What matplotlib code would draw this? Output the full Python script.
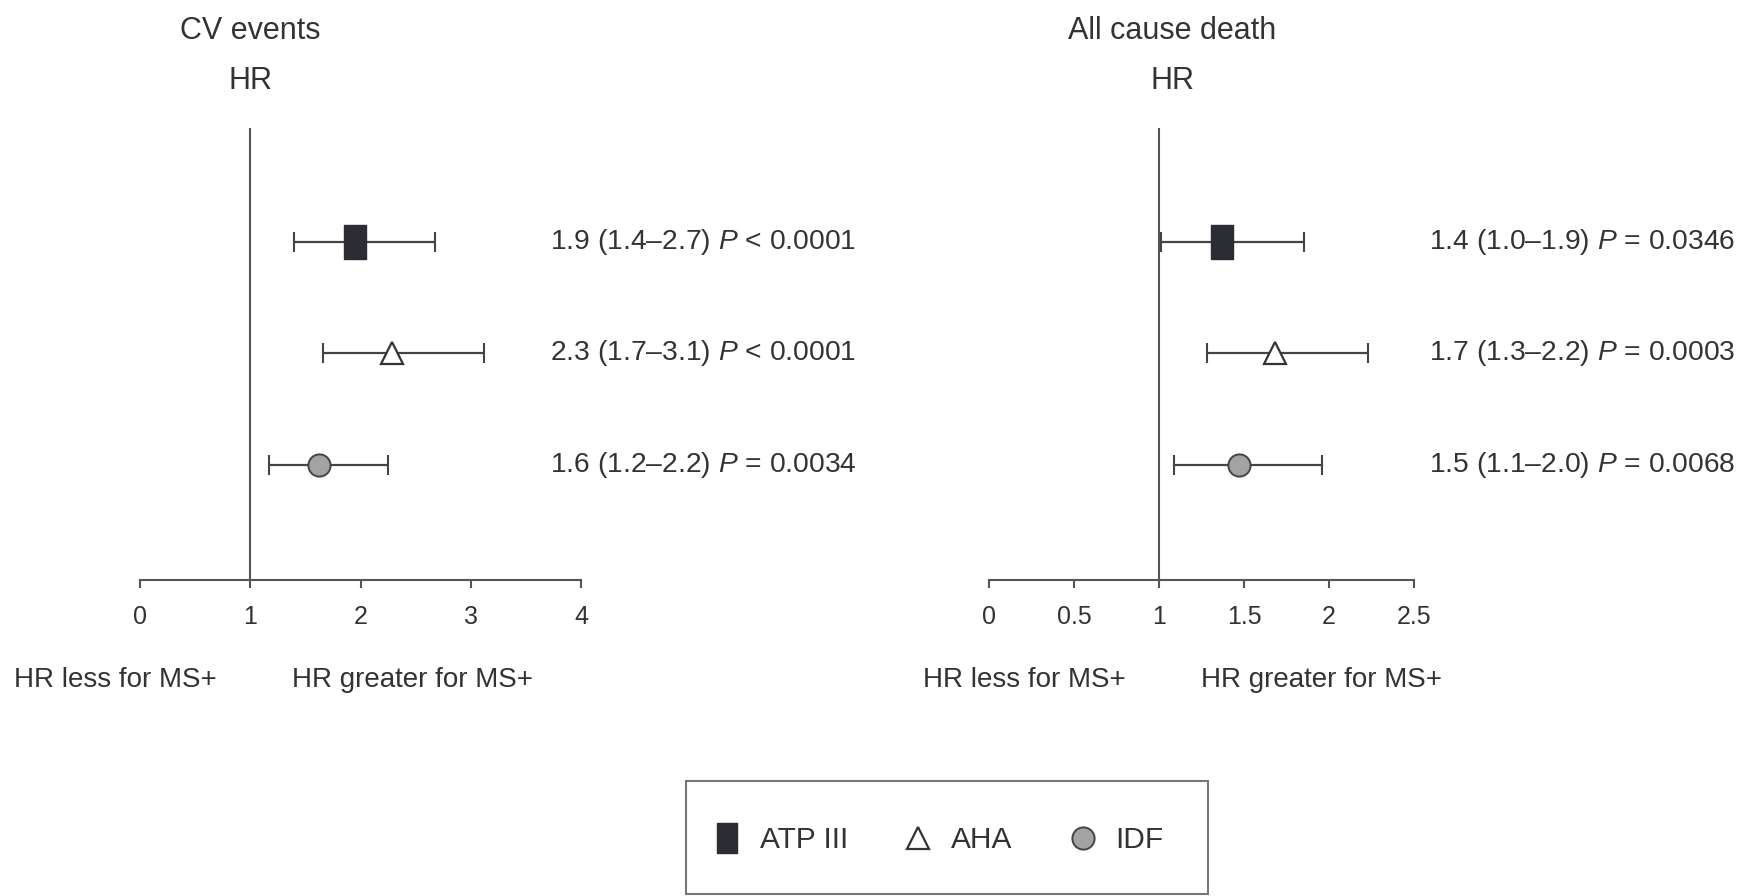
import matplotlib
matplotlib.use("Agg")
import matplotlib.pyplot as plt
import matplotlib.transforms as mtrans
from matplotlib.lines import Line2D
from matplotlib.patches import Rectangle

plt.rcParams['font.family'] = ['Liberation Sans', 'DejaVu Sans']
plt.rcParams['mathtext.fontset'] = 'custom'
plt.rcParams['mathtext.rm'] = 'Liberation Sans'
plt.rcParams['mathtext.it'] = 'Liberation Sans:italic'

# donnees
criteres = ['ATP III', 'AHA', 'IDF']
rangs = [3, 2, 1]

cv_hr = [1.95, 2.29, 1.62]
cv_bas = [1.40, 1.66, 1.17]
cv_haut = [2.68, 3.12, 2.25]
cv_txt = ['1.9 (1.4\u20132.7) $P$ < 0.0001',
          '2.3 (1.7\u20133.1) $P$ < 0.0001',
          '1.6 (1.2\u20132.2) $P$ = 0.0034']

dc_hr = [1.37, 1.68, 1.47]
dc_bas = [1.01, 1.28, 1.09]
dc_haut = [1.85, 2.23, 1.96]
dc_txt = ['1.4 (1.0\u20131.9) $P$ = 0.0346',
          '1.7 (1.3\u20132.2) $P$ = 0.0003',
          '1.5 (1.1\u20132.0) $P$ = 0.0068']

ticks_cv = [0, 1, 2, 3, 4]
ticks_dc = [0, 0.5, 1, 1.5, 2, 2.5]
labels_dc = ['0', '0.5', '1', '1.5', '2', '2.5']

TXT = '#333333'
GRIS = '#555555'
rect = [(-0.32, -0.5), (0.32, -0.5), (0.32, 0.5), (-0.32, 0.5), (-0.32, -0.5)]
styles = [dict(marker=rect, ms=25, mfc='#2b2d33', mec='#2b2d33'),
          dict(marker='^', ms=16, mfc='white', mec='#333333', mew=1.6),
          dict(marker='o', ms=16, mfc='#a3a3a3', mec='#444444', mew=1.4)]


def panneau(ax, hr, bas, haut, txt, ticks, tlabels, xmax, xtxt, titre, xtitre):
    ax.set_xlim(0, xmax)
    ax.set_ylim(-0.03, 4.02)
    for s in ['top', 'right', 'left']:
        ax.spines[s].set_visible(False)
    ax.spines['bottom'].set_color(GRIS)
    ax.spines['bottom'].set_linewidth(1.5)
    ax.set_yticks([])
    ax.set_xticks(ticks)
    ax.set_xticklabels(tlabels)
    ax.tick_params(axis='x', length=6, width=1.5, color=GRIS, pad=12,
                   labelsize=18, labelcolor=TXT)
    ax.axvline(1, color=GRIS, lw=1.5)
    for i in range(3):
        ax.errorbar([hr[i]], [rangs[i]],
                    xerr=[[hr[i] - bas[i]], [haut[i] - hr[i]]],
                    fmt='none', ecolor='#444444', elinewidth=1.6,
                    capsize=7.5, capthick=1.5)
        ax.plot([hr[i]], [rangs[i]], ls='none', zorder=3, **styles[i])
        ax.text(xtxt, rangs[i], txt[i], ha='left', va='center',
                fontsize=20.3, color=TXT, clip_on=False)
    tr = mtrans.blended_transform_factory(ax.transData, fig.transFigure)
    fig.text(xtitre, 1 - 31 / 896, titre, transform=tr, ha='center', va='center',
             fontsize=22, color=TXT)
    fig.text(xtitre, 1 - 81 / 896, 'HR', transform=tr, ha='center', va='center',
             fontsize=22, color=TXT)
    ax.annotate('HR less for MS+', xy=(1, 0), xycoords=('data', 'axes fraction'),
                xytext=(-24, -72), textcoords='offset points',
                ha='right', va='center', fontsize=20, color=TXT)
    ax.annotate('HR greater for MS+', xy=(1, 0), xycoords=('data', 'axes fraction'),
                xytext=(30, -72), textcoords='offset points',
                ha='left', va='center', fontsize=20, color=TXT)


fig = plt.figure(figsize=(17.52, 8.96), dpi=100)
ax1 = fig.add_axes([140 / 1752, 0.3527, 441 / 1752, 0.5045])
ax2 = fig.add_axes([989 / 1752, 0.3527, 425 / 1752, 0.5045])

panneau(ax1, cv_hr, cv_bas, cv_haut, cv_txt, ticks_cv,
        [str(t) for t in ticks_cv], 4, 3.72, 'CV events', 1.0)
panneau(ax2, dc_hr, dc_bas, dc_haut, dc_txt, ticks_dc,
        labels_dc, 2.5, 2.59, 'All cause death', 1.08)

# cadre de la legende
fig.patches.append(Rectangle((686 / 1752, 2 / 896), 522 / 1752, 113 / 896,
                             transform=fig.transFigure, fill=False,
                             edgecolor='#777777', linewidth=1.5))

poignees = [Line2D([], [], ls='none', **styles[i]) for i in range(3)]
poignees[0].set_markersize(22)
leg = fig.legend(poignees, criteres, loc='center', bbox_to_anchor=(0.535, 0.0625),
                 ncol=3, frameon=False, fontsize=21.5,
                 handlelength=1.1, handletextpad=0.55,
                 columnspacing=1.8, labelcolor=TXT)

fig.savefig('out.png', dpi=100)
